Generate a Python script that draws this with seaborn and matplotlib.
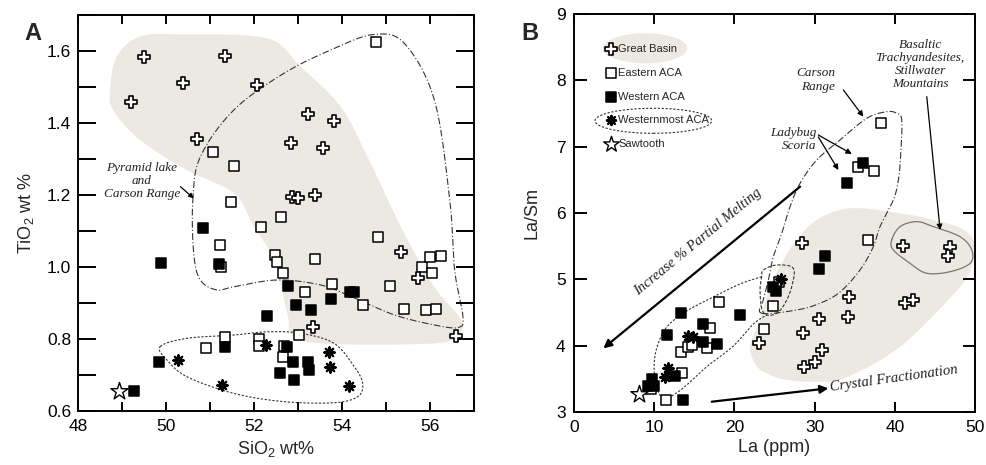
import numpy as np
import pandas as pd
import matplotlib
matplotlib.use("Agg")
import matplotlib.pyplot as plt
import seaborn as sns
from matplotlib.ticker import MultipleLocator, FormatStrFormatter
from matplotlib.patches import Ellipse

# ---------------- Panel A data (SiO2 wt% vs TiO2 wt%) ----------------
gb_a_x = [49.49, 49.20, 50.39, 51.33, 52.06, 50.71, 53.22, 53.81, 52.85, 53.58,
          52.86, 52.99, 53.38, 55.34, 55.72, 53.34, 56.60]
gb_a_y = [1.584, 1.457, 1.510, 1.586, 1.506, 1.355, 1.425, 1.406, 1.344, 1.330,
          1.194, 1.192, 1.200, 1.043, 0.970, 0.832, 0.809]

ea_a_x = [54.77, 51.07, 51.54, 51.48, 52.61, 52.17, 54.83, 51.22, 51.25, 52.47,
          52.52, 52.65, 53.39, 53.15, 53.77, 55.10, 54.47, 55.42, 55.90, 56.14,
          55.83, 56.01, 56.26, 56.05, 53.02, 51.34, 52.11, 52.11, 50.92, 52.68,
          52.67]
ea_a_y = [1.624, 1.320, 1.281, 1.181, 1.140, 1.110, 1.082, 1.060, 1.001, 1.033,
          1.013, 0.982, 1.023, 0.931, 0.953, 0.947, 0.894, 0.883, 0.881, 0.883,
          1.001, 1.029, 1.031, 0.982, 0.811, 0.806, 0.799, 0.780, 0.776, 0.781,
          0.749]

wa_a_x = [50.84, 49.89, 51.21, 52.77, 52.95, 53.29, 53.76, 54.19, 54.28, 52.29,
          51.34, 52.76, 52.89, 53.22, 53.26, 52.59, 52.91, 49.85, 49.28]
wa_a_y = [1.109, 1.012, 1.007, 0.948, 0.894, 0.881, 0.911, 0.930, 0.930, 0.865,
          0.779, 0.779, 0.737, 0.737, 0.714, 0.706, 0.686, 0.735, 0.656]

wm_a_x = [50.27, 51.28, 52.27, 53.71, 53.72, 54.16]
wm_a_y = [0.742, 0.672, 0.782, 0.764, 0.723, 0.670]

st_a_x = [48.94]
st_a_y = [0.656]

# ---------------- Panel B data (La ppm vs La/Sm) ----------------
gb_b_x = [28.39, 41.06, 46.88, 46.67, 34.29, 34.20, 30.59, 41.27, 42.31, 28.59,
          23.10, 30.87, 30.05, 28.68]
gb_b_y = [5.543, 5.508, 5.492, 5.352, 4.739, 4.437, 4.397, 4.648, 4.689, 4.187,
          4.045, 3.935, 3.759, 3.683]

ea_b_x = [38.28, 35.45, 37.44, 36.70, 25.60, 24.77, 23.73, 18.12, 16.96, 16.54,
          13.30, 14.25, 14.67, 13.42, 11.43, 9.60]
ea_b_y = [7.362, 6.698, 6.638, 5.600, 4.965, 4.598, 4.247, 4.654, 4.262, 3.960,
          3.909, 3.985, 4.010, 3.593, 3.181, 3.342]

wa_b_x = [35.99, 34.00, 31.30, 30.59, 24.77, 25.19, 20.70, 13.30, 16.04, 11.56,
          16.04, 17.79, 12.59, 9.68, 9.27, 9.98, 13.63]
wa_b_y = [6.749, 6.457, 5.356, 5.156, 4.889, 4.829, 4.462, 4.497, 4.327, 4.161,
          4.060, 4.020, 3.548, 3.498, 3.396, 3.396, 3.181]

wm_b_x = [25.77, 14.25, 14.88, 11.76, 11.35]
wm_b_y = [5.00, 4.150, 4.126, 3.668, 3.533]

st_b_x = [8.15]
st_b_y = [3.267]

legend_labels = ["Great Basin", "Eastern ACA", "Western ACA", "Westernmost ACA", "Sawtooth"]
legend_y = [8.468, 8.115, 7.745, 7.402, 7.040]
legend_x = 4.57

# ---------------- Field outlines (annotation shapes) ----------------
gbfield_a_x = [48.73, 48.88, 49.41, 50.40, 52.30, 53.06, 53.97, 54.58, 55.34, 56.10,
               56.71, 56.64, 56.10, 53.82, 52.91, 52.76, 52.45, 52.00, 51.54, 50.48,
               49.41, 48.80]
gbfield_a_y = [1.492, 1.584, 1.640, 1.646, 1.635, 1.556, 1.445, 1.306, 1.112, 0.945,
               0.853, 0.811, 0.788, 0.786, 0.806, 0.871, 1.019, 1.112, 1.205, 1.269,
               1.353, 1.436]

carson_a_x = [50.61, 50.78, 51.54, 52.68, 53.82, 54.73, 55.42, 56.10, 56.45, 56.56,
              56.75, 56.64, 56.10, 55.19, 54.21, 53.52, 52.53, 51.54, 51.16, 50.78,
              50.63]
carson_a_y = [1.186, 1.306, 1.436, 1.538, 1.607, 1.646, 1.621, 1.464, 1.186, 0.992,
              0.862, 0.832, 0.839, 0.867, 0.918, 0.950, 0.964, 0.945, 0.936, 0.964,
              1.038]

wmfield_a_x = [49.87, 50.48, 51.54, 52.30, 53.06, 53.82, 54.28, 54.47, 54.36, 53.82,
               52.68, 51.54, 50.48, 50.02]
wmfield_a_y = [0.779, 0.802, 0.811, 0.820, 0.816, 0.788, 0.723, 0.677, 0.640, 0.623,
               0.626, 0.649, 0.695, 0.742]

gbfield_b_x = [21.95, 22.69, 24.03, 26.52, 30.67, 33.79, 40.65, 48.13, 49.79, 49.79,
               48.13, 44.80, 40.65, 34.41, 30.26, 27.77, 26.10, 24.44, 23.19]
gbfield_b_y = [3.985, 3.709, 3.583, 3.482, 3.457, 3.513, 3.984, 4.889, 5.292, 5.593,
               5.774, 5.895, 5.996, 6.071, 5.895, 5.593, 5.292, 4.889, 4.387]

stillwater_b_x = [39.61, 40.65, 42.73, 44.80, 48.13, 49.59, 49.38, 46.88, 43.98, 41.90, 39.81]
stillwater_b_y = [5.593, 5.794, 5.870, 5.794, 5.643, 5.442, 5.241, 5.115, 5.091, 5.241, 5.442]

carson_b_x = [23.40, 27.77, 30.67, 33.17, 35.66, 37.32, 38.15, 39.81, 40.44, 40.74,
              40.86, 40.24, 38.99, 36.50, 33.17, 30.26, 28.18, 26.93, 25.90, 24.85,
              24.23, 23.60]
carson_b_y = [4.488, 4.538, 4.639, 4.809, 5.141, 5.492, 5.794, 6.196, 6.498, 6.900,
              7.402, 7.503, 7.527, 7.428, 7.101, 6.799, 6.448, 6.095, 5.694, 5.341,
              4.990, 4.688]

loop_b_x = [23.60, 25.27, 27.34, 27.14, 26.31, 25.27, 24.03, 23.40, 23.19, 23.40]
loop_b_y = [5.141, 5.216, 5.166, 4.889, 4.639, 4.488, 4.462, 4.563, 4.839, 5.040]

lowfield_b_x = [23.40, 20.70, 17.37, 14.05, 11.56, 10.35, 9.98, 10.31, 11.13, 12.38,
                14.05, 16.55, 19.86, 22.36, 24.03]
lowfield_b_y = [5.040, 4.930, 4.734, 4.523, 4.281, 3.980, 3.678, 3.377, 3.196, 3.256,
                3.407, 3.683, 3.995, 4.327, 4.462]


def catmull(xs, ys, closed=True, n=24):
    P = np.column_stack([xs, ys]).astype(float)
    if not closed:
        P = np.vstack([P[0], P, P[-1]])
    N = len(P)
    segs = []
    rng = range(N) if closed else range(1, N - 2)
    t = np.linspace(0, 1, n, endpoint=False)[:, None]
    for i in rng:
        p0, p1, p2, p3 = P[i - 1], P[i], P[(i + 1) % N], P[(i + 2) % N]
        segs.append(0.5 * ((2 * p1) + (-p0 + p2) * t + (2 * p0 - 5 * p1 + 4 * p2 - p3) * t ** 2
                           + (-p0 + 3 * p1 - 3 * p2 + p3) * t ** 3))
    out = np.vstack(segs)
    if closed:
        out = np.vstack([out, out[:1]])
    else:
        out = np.vstack([out, P[-2]])
    return out[:, 0], out[:, 1]


sns.set_style("ticks")
plt.rcParams["font.family"] = ["Liberation Sans", "DejaVu Sans"]
plt.rcParams["mathtext.fontset"] = "custom"
plt.rcParams["mathtext.rm"] = "Liberation Sans"
plt.rcParams["mathtext.it"] = "Liberation Sans:italic"
plt.rcParams["axes.linewidth"] = 1.4
plt.rcParams["axes.axisbelow"] = False
plt.rcParams["axes.edgecolor"] = "black"
for k in ("xtick", "ytick"):
    plt.rcParams[k + ".direction"] = "in"
    plt.rcParams[k + ".color"] = "black"
    plt.rcParams[k + ".major.width"] = 1.4
    plt.rcParams[k + ".minor.width"] = 1.4
plt.rcParams["xtick.top"] = True
plt.rcParams["xtick.bottom"] = True
plt.rcParams["ytick.left"] = True
plt.rcParams["ytick.right"] = True

GREY = "#ebe9e2"
SERIF = dict(family=["Liberation Serif", "DejaVu Serif"], style="italic", color="#222222")
DASHDOT = (0, (6, 2, 1, 2))
DOTTED = (0, (2, 1.5))

fig = plt.figure(figsize=(9.86, 4.65), dpi=100)
axA = fig.add_axes([0.0791, 0.1161, 0.4016, 0.8516])
axB = fig.add_axes([0.5822, 0.1140, 0.4067, 0.8559])

MS = 55


def plot_series(ax, gx, gy, ex, ey, wx, wy, mx, my, sx, sy):
    sns.scatterplot(x=ex, y=ey, marker="s", s=MS, color="white", edgecolor="black",
                    linewidth=1.1, ax=ax, zorder=5)
    sns.scatterplot(x=wx, y=wy, marker="s", s=MS, color="black", edgecolor="black",
                    linewidth=1.1, ax=ax, zorder=6)
    sns.scatterplot(x=gx, y=gy, marker="P", s=85, color="white", edgecolor="black",
                    linewidth=1.2, ax=ax, zorder=6)
    sns.scatterplot(x=mx, y=my, marker=(8, 2, 0), s=55, color="black",
                    linewidth=1.6, ax=ax, zorder=7)
    sns.scatterplot(x=sx, y=sy, marker="*", s=170, color="white", edgecolor="black",
                    linewidth=1.0, ax=ax, zorder=7)


# ---------------- Panel A ----------------
fx, fy = catmull(gbfield_a_x, gbfield_a_y)
axA.fill(fx, fy, color=GREY, lw=0, zorder=0)
cx, cy = catmull(carson_a_x, carson_a_y)
axA.plot(cx, cy, color="#333333", lw=0.8, ls=DASHDOT, zorder=2)
wx_, wy_ = catmull(wmfield_a_x, wmfield_a_y)
axA.plot(wx_, wy_, color="#333333", lw=0.8, ls=DOTTED, zorder=2)

plot_series(axA, gb_a_x, gb_a_y, ea_a_x, ea_a_y, wa_a_x, wa_a_y, wm_a_x, wm_a_y, st_a_x, st_a_y)

axA.text(49.45, 1.239, "Pyramid lake\nand\nCarson Range", ha="center", va="center",
         fontsize=9.5, linespacing=1.1, **SERIF)
axA.annotate("", xy=(50.63, 1.191), xytext=(50.33, 1.223),
             arrowprops=dict(arrowstyle="-|>", lw=0.9, color="black", mutation_scale=7,
                             shrinkA=0, shrinkB=0))

axA.set_xlim(48, 57)
axA.set_ylim(0.6, 1.7)
axA.xaxis.set_major_locator(MultipleLocator(2))
axA.xaxis.set_minor_locator(MultipleLocator(1))
axA.yaxis.set_major_locator(MultipleLocator(0.2))
axA.yaxis.set_minor_locator(MultipleLocator(0.1))
axA.yaxis.set_major_formatter(FormatStrFormatter("%.1f"))
axA.tick_params(axis="x", which="both", length=6.5, labelsize=12.5, pad=6)
axA.tick_params(axis="y", which="both", length=13, labelsize=12.5, pad=5)
axA.set_xlabel("SiO$_2$ wt%", fontsize=13, labelpad=3)
axA.set_ylabel("TiO$_2$ wt %", fontsize=13, labelpad=8)

# ---------------- Panel B ----------------
fx, fy = catmull(gbfield_b_x, gbfield_b_y)
axB.fill(fx, fy, color=GREY, lw=0, zorder=0)
sx_, sy_ = catmull(stillwater_b_x, stillwater_b_y)
axB.plot(sx_, sy_, color="#777777", lw=0.9, zorder=1)
cx, cy = catmull(carson_b_x, carson_b_y)
axB.plot(cx, cy, color="#333333", lw=0.8, ls=DASHDOT, zorder=2)
lx, ly = catmull(loop_b_x, loop_b_y)
axB.plot(lx, ly, color="#333333", lw=0.8, ls=(0, (3, 1.5)), zorder=2)
ox, oy = catmull(lowfield_b_x, lowfield_b_y, closed=False)
axB.plot(ox, oy, color="#333333", lw=0.8, ls=DOTTED, zorder=2)

plot_series(axB, gb_b_x, gb_b_y, ea_b_x, ea_b_y, wa_b_x, wa_b_y, wm_b_x, wm_b_y, st_b_x, st_b_y)

axB.add_patch(Ellipse((8.85, 8.483), 10.56, 0.452, color=GREY, lw=0, zorder=0))
axB.add_patch(Ellipse((9.89, 7.390), 14.55, 0.377, fill=False, ec="#333333", lw=0.8,
                      ls=DOTTED, zorder=2))
leg_markers = [dict(marker="P", s=65, color="white", edgecolor="black", linewidth=1.2),
               dict(marker="s", s=45, color="white", edgecolor="black", linewidth=1.1),
               dict(marker="s", s=45, color="black", edgecolor="black", linewidth=1.1),
               dict(marker=(8, 2, 0), s=45, color="black", linewidth=1.5),
               dict(marker="*", s=140, color="white", edgecolor="black", linewidth=1.0)]
for lab, yy, mk in zip(legend_labels, legend_y, leg_markers):
    sns.scatterplot(x=[legend_x], y=[yy], ax=axB, zorder=6, **mk)
    axB.text(legend_x + 0.95, yy, lab, fontsize=8, va="center", ha="left", zorder=6)

axB.annotate("", xy=(3.65, 3.960), xytext=(28.18, 6.397),
             arrowprops=dict(arrowstyle="-|>", lw=1.6, color="black", mutation_scale=12,
                             shrinkA=0, shrinkB=0), zorder=4)
axB.text(15.4, 5.56, "Increase % Partial Melting", rotation=39.4, rotation_mode="anchor",
         ha="center", va="center", fontsize=10.5, **SERIF)
axB.annotate("", xy=(31.71, 3.357), xytext=(17.17, 3.155),
             arrowprops=dict(arrowstyle="-|>", lw=1.6, color="black", mutation_scale=12,
                             shrinkA=0, shrinkB=0), zorder=4)
axB.text(32.0, 3.31, "Crystal Fractionation", rotation=8.0, rotation_mode="anchor",
         ha="left", va="baseline", fontsize=10.5, **SERIF)

axB.text(32.54, 8.005, "Carson\nRange", ha="right", va="center", multialignment="right",
         fontsize=9.5, linespacing=1.15, **SERIF)
axB.annotate("", xy=(36.07, 7.452), xytext=(33.58, 7.855),
             arrowprops=dict(arrowstyle="-|>", lw=0.9, color="black", mutation_scale=8,
                             shrinkA=0, shrinkB=0))
axB.text(30.27, 7.108, "Ladybug\nScoria", ha="right", va="center", multialignment="right",
         fontsize=9.5, linespacing=1.15, **SERIF)
axB.annotate("", xy=(34.63, 6.890), xytext=(30.46, 7.176),
             arrowprops=dict(arrowstyle="-|>", lw=0.9, color="black", mutation_scale=8,
                             shrinkA=0, shrinkB=0))
axB.annotate("", xy=(32.96, 6.648), xytext=(30.46, 7.146),
             arrowprops=dict(arrowstyle="-|>", lw=0.9, color="black", mutation_scale=8,
                             shrinkA=0, shrinkB=0))
axB.text(43.14, 8.243, "Basaltic\nTrachyandesites,\nStillwater\nMountains", ha="center",
         va="center", fontsize=9.5, linespacing=1.12, **SERIF)
axB.annotate("", xy=(45.64, 5.744), xytext=(43.98, 7.753),
             arrowprops=dict(arrowstyle="-|>", lw=0.9, color="black", mutation_scale=8,
                             shrinkA=0, shrinkB=0))

axB.set_xlim(0, 50)
axB.set_ylim(3, 9)
axB.xaxis.set_major_locator(MultipleLocator(10))
axB.yaxis.set_major_locator(MultipleLocator(1))
axB.tick_params(axis="x", length=7.2, labelsize=12.5, pad=6)
axB.tick_params(axis="y", length=9, labelsize=12.5, pad=6)
axB.set_xlabel("La (ppm)", fontsize=13, labelpad=3)
axB.set_ylabel("La/Sm", fontsize=13, labelpad=11)

for ax in (axA, axB):
    for sp in ax.spines.values():
        sp.set_visible(True)
        sp.set_linewidth(1.4)
        sp.set_edgecolor("black")

fig.text(0.0335, 0.929, "A", fontsize=17, fontweight="bold", ha="center", va="center")
fig.text(0.5375, 0.929, "B", fontsize=17, fontweight="bold", ha="center", va="center")

fig.savefig("out.png", dpi=100)
